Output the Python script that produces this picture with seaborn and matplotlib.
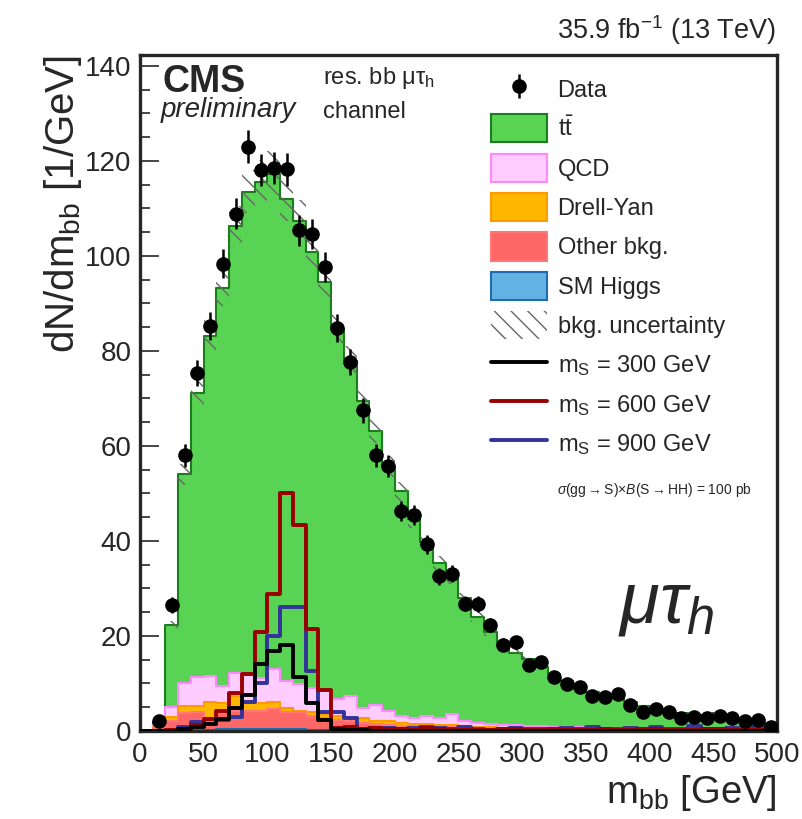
import numpy as np
import pandas as pd
import matplotlib
matplotlib.use("Agg")
import matplotlib.pyplot as plt
from matplotlib.patches import Patch
from matplotlib.lines import Line2D
import seaborn as sns

# ---------------- data (dN/dm_bb per 10 GeV bin, 0..500 GeV) ----------------
bin_edges = list(range(0, 510, 10))
bin_centers = np.array(bin_edges[:-1]) + 5

higgs = [0, 0.05, 0.1, 0.2, 0.3, 0.3, 0.4, 0.5, 0.5, 0.5, 0.5, 0.5, 0.4, 0.3, 0.2, 0.1, 0.1, 0.1, 0.05, 0.05,
         0.05, 0.03, 0.03, 0.03, 0.02, 0.02, 0.02, 0.02, 0.01, 0.01, 0.01, 0, 0, 0, 0, 0, 0, 0, 0, 0,
         0, 0, 0, 0, 0, 0, 0, 0, 0, 0]
other = [0, 0.55, 2.0, 3.6, 3.7, 2.5, 3.8, 3.8, 3.7, 3.7, 4.1, 3.4, 3.5, 2.9, 2.5, 2.2, 2.0, 1.6, 1.45, 1.25,
         1.05, 0.97, 0.87, 0.77, 0.78, 0.68, 0.58, 0.58, 0.49, 0.49, 0.39, 0.4, 0.4, 0.3, 0.3, 0.3, 0.2, 0.2, 0.2, 0.2,
         0.2, 0.1, 0.1, 0.1, 0.1, 0.1, 0.1, 0.1, 0.1, 0.1]
drellyan = [0, 0.3, 0.8, 1.4, 1.2, 3.2, 1.6, 3.0, 2.1, 1.6, 1.6, 1.0, 0.4, 0.7, 0.8, 0.9, 0.7, 1.0, 0.7, 0.7,
            0.6, 0.5, 0.5, 0.4, 0.4, 0.3, 0.3, 0.2, 0.2, 0.2, 0.2, 0.2, 0.1, 0.2, 0.1, 0.1, 0.2, 0.1, 0.1, 0.1,
            0.1, 0.1, 0.1, 0.1, 0.1, 0.1, 0.1, 0.0, 0.0, 0.0]
qcd = [0, 0.3, 2.2, 4.9, 6.2, 5.5, 3.7, 5.0, 5.6, 5.4, 6.9, 5.6, 5.5, 5.2, 5.0, 3.5, 4.6, 2.2, 3.3, 2.2,
       1.5, 1.2, 1.8, 1.5, 2.3, 1.0, 0.8, 0.7, 0.6, 0.5, 0.5, 0.4, 0.4, 0.3, 0.4, 0.3, 0.2, 0.3, 0.2, 0.2,
       0.1, 0.2, 0.2, 0.1, 0.1, 0.1, 0.1, 0.1, 0.1, 0.1]
ttbar = [0, 0.4, 17.2, 43.9, 59.8, 71.7, 83.8, 93.9, 101.6, 104.4, 104.2, 101.4, 97.6, 91.8, 86.0, 77.9, 70.5, 64.5, 57.7, 51.4,
         47.3, 41.9, 36.6, 32.7, 28.8, 25.9, 22.3, 19.4, 16.9, 15.3, 14.0, 12.5, 11.0, 9.7, 8.7, 7.6, 7.0, 6.4, 5.7, 4.8,
         4.3, 3.8, 3.3, 3.0, 2.7, 2.5, 2.3, 2.1, 1.8, 1.4]

data_obs = [np.nan, 2.2, 26.5, 58.0, 75.3, 85.3, 98.4, 108.9, 123.0, 118.1, 118.5, 118.2, 105.4, 104.6, 97.7, 84.8, 77.7, 67.5, 58.0, 55.8,
            46.3, 45.5, 39.3, 32.6, 33.1, 26.8, 26.7, 22.3, 18.2, 18.7, 13.9, 14.6, 11.4, 9.8, 9.3, 7.4, 7.2, 7.7, 5.5, 4.1,
            4.6, 3.9, 2.8, 2.9, 2.7, 3.2, 2.7, 2.0, 2.4, 0.8]

sig_300 = [0, 0, 0.1, 0.4, 0.9, 1.4, 2.5, 4.9, 7.6, 14.2, 16.8, 18.2, 11.4, 5.9, 2.4, 0.5, 0.3, 0.2, 0.1, 0.1,
           0.1, 0.1, 0.05, 0.05, 0.05, 0.05, 0.05, 0.05, 0.05, 0.05, 0.05, 0.05, 0.05, 0.05, 0.05, 0.05, 0.05, 0.05, 0.05, 0.05,
           0.05, 0.05, 0.05, 0.05, 0.05, 0.05, 0.05, 0.05, 0.05, 0.05]
sig_600 = [0, 0, 0.2, 0.4, 1.2, 2.5, 4.3, 7.9, 11.9, 20.9, 28.9, 50.0, 43.3, 21.5, 8.6, 0.6, 0.8, 0.5, 0.6, 0.4,
           0.5, 0.3, 0.6, 0.4, 0.3, 0.2, 0.3, 0.3, 0.5, 0.4, 0.3, 0.2, 0.4, 0.2, 0.3, 0.2, 0.5, 0.2, 0.3, 0.4,
           0.5, 0.3, 0.2, 0.3, 0.4, 0.5, 0.3, 0.2, 0.2, 0.1]
sig_900 = [0, 0, 0.1, 0.8, 1.8, 1.5, 2.3, 3.0, 6.0, 10.0, 20.0, 26.2, 26.2, 12.7, 4.0, 3.9, 2.8, 0.5, 0.6, 0.7,
           0.5, 0.6, 0.9, 0.6, 0.4, 0.8, 0.5, 0.3, 0.5, 0.6, 0.4, 0.5, 0.3, 0.7, 0.4, 0.8, 0.5, 0.4, 0.6, 0.3,
           0.8, 0.5, 0.4, 1.0, 0.5, 0.4, 0.6, 0.5, 1.0, 0.3]

bkg_rel_unc = 0.04

# ---------------- style ----------------
sns.set_style("ticks")
plt.rcParams["font.family"] = ["Liberation Sans", "DejaVu Sans"]
plt.rcParams["mathtext.fontset"] = "custom"
plt.rcParams["mathtext.rm"] = "Liberation Sans"
plt.rcParams["mathtext.it"] = "Liberation Sans:italic"
plt.rcParams["mathtext.bf"] = "Liberation Sans:bold"
plt.rcParams["hatch.linewidth"] = 1.0

W, H = 803, 819
fig = plt.figure(figsize=(W / 100, H / 100), dpi=100)
ax = fig.add_axes([140 / W, 1 - 731 / H, 637 / W, 676 / H])

def fpx(x, y):
    return x / W, 1 - y / H

# ---------------- stacked backgrounds (drawn as layered cumulative steps) ----------------
stack_bottom_up = [
    ("SM Higgs", higgs, "#62b3e4", "#1f6db0"),
    ("Other bkg.", other, "#ff6666", "#ff7777"),
    ("Drell-Yan", drellyan, "#ffb700", "#ff9900"),
    ("QCD", qcd, "#ffccff", "#ff88ff"),
    (r"t$\bar{\mathrm{t}}$", ttbar, "#59d354", "#1b7d1b"),
]
cum = np.cumsum(np.array([s[1] for s in stack_bottom_up], dtype=float), axis=0)
for i in range(len(stack_bottom_up) - 1, -1, -1):
    name, _, fc, ec = stack_bottom_up[i]
    sns.histplot(x=bin_centers, weights=cum[i], bins=bin_edges, element="step", fill=True,
                 facecolor=fc, edgecolor=ec, linewidth=1.5, alpha=1, ax=ax, zorder=2 + (4 - i) * 0.01)

total = cum[-1]
unc = bkg_rel_unc * total
ax.bar(bin_centers, 2 * unc, bottom=total - unc, width=10, fill=False, hatch="\\\\",
       edgecolor="#666666", linewidth=0, zorder=3)

# ---------------- signals ----------------
signals = [(sig_300, "black", r"m$_{\mathrm{S}}$ = 300 GeV"),
           (sig_600, "#990000", r"m$_{\mathrm{S}}$ = 600 GeV"),
           (sig_900, "#333399", r"m$_{\mathrm{S}}$ = 900 GeV")]
for vals, col, lab in reversed(signals):
    sns.histplot(x=bin_centers, weights=vals, bins=bin_edges, element="step", fill=False,
                 color=col, linewidth=2.8, ax=ax, zorder=4)

# ---------------- data ----------------
data_arr = np.array(data_obs, dtype=float)
data_err = np.sqrt(data_arr * 10) / 10
eb = ax.errorbar(bin_centers, data_arr, yerr=data_err, fmt="o", color="black", markersize=9.5,
                 elinewidth=1.8, capsize=0, zorder=6)

# ---------------- axes ----------------
ax.set_xlim(0, 500)
ax.set_ylim(0, 142.3)
ax.set_xticks(np.arange(0, 501, 50))
ax.set_xticks(np.arange(0, 501, 10), minor=True)
ax.set_yticks(np.arange(0, 141, 20))
ax.set_yticks(np.arange(0, 141, 5), minor=True)
ax.tick_params(axis="both", which="major", direction="in", length=14, width=1.2, labelsize=20, pad=6)
ax.tick_params(axis="both", which="minor", direction="in", length=7, width=1.2)
ax.tick_params(axis="x", labelsize=20, pad=8)
for sp in ax.spines.values():
    sp.set_linewidth(2.4)
    sp.set_visible(True)

ax.set_xlabel(r"m$_{\mathrm{bb}}$ [GeV]", fontsize=27.5, loc="right")
ax.xaxis.set_label_coords(1.0, -0.062)
ax.set_ylabel(r"dN/dm$_{\mathrm{bb}}$ [1/GeV]", fontsize=29, loc="top")
ax.yaxis.set_label_coords(-0.088, 1.0)

# ---------------- legend ----------------
handles = [eb]
labels = ["Data"]
for name, _, fc, ec in reversed(stack_bottom_up):
    handles.append(Patch(facecolor=fc, edgecolor=ec, linewidth=1.5))
    labels.append(name)
handles.append(Patch(facecolor="white", edgecolor="#666666", hatch="\\\\", linewidth=0))
labels.append("bkg. uncertainty")
for vals, col, lab in signals:
    handles.append(Line2D([0], [0], color=col, linewidth=2.8))
    labels.append(lab)
leg = ax.legend(handles, labels, loc="upper left", bbox_to_anchor=fpx(491, 75),
                bbox_transform=fig.transFigure, frameon=False, fontsize=17,
                borderpad=0, borderaxespad=0, handlelength=2.37, handleheight=1.45,
                labelspacing=0.48, handletextpad=0.45)
leg.set_zorder(10)

# ---------------- texts ----------------
fig.text(*fpx(557, 494), r"$\sigma$(gg$\rightarrow$S)$\times\mathit{B}$(S$\rightarrow$HH) = 100 pb",
         fontsize=10, ha="left", va="baseline")
fig.text(*fpx(163, 92), "CMS", fontsize=27, fontweight="bold", ha="left", va="baseline")
fig.text(*fpx(161, 117), "preliminary", fontsize=20, fontstyle="italic", ha="left", va="baseline")
fig.text(*fpx(323, 84), r"res. bb $\mathrm{\mu\tau}_{\mathrm{h}}$", fontsize=17, ha="left", va="baseline")
fig.text(*fpx(323, 118), "channel", fontsize=17, ha="left", va="baseline")
fig.text(*fpx(776, 39), r"35.9 fb$^{-1}$ (13 TeV)", fontsize=19.5, ha="right", va="baseline")
fig.text(*fpx(618, 622), r"$\mu\tau_{h}$", fontsize=52, ha="left", va="baseline")

fig.savefig("out.png", dpi=100)
